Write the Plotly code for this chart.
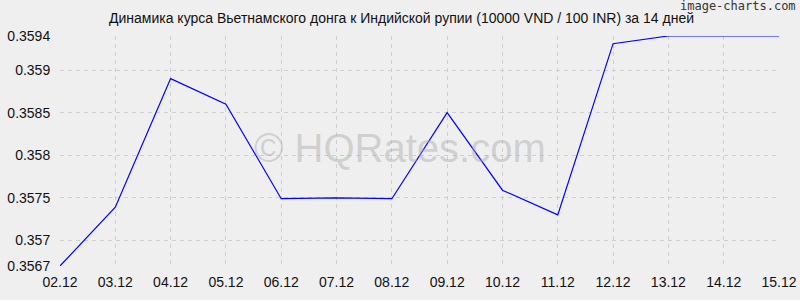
import plotly.graph_objects as go

dates = ["02.12", "03.12", "04.12", "05.12", "06.12", "07.12", "08.12",
         "09.12", "10.12", "11.12", "12.12", "13.12", "14.12", "15.12"]
rates = [0.3567, 0.35739, 0.35890, 0.35860, 0.35749, 0.35750, 0.35749,
         0.35850, 0.35759, 0.35730, 0.35931, 0.3594, 0.3594, 0.3594]
y_ticks = [0.3567, 0.357, 0.3575, 0.358, 0.3585, 0.359, 0.3594]
y_tick_labels = ["0.3567", "0.357", "0.3575", "0.358", "0.3585", "0.359", "0.3594"]

title_text = "Динамика курса Вьетнамского донга к Индийской рупии (10000 VND / 100 INR) за 14 дней"

fig = go.Figure()
fig.add_trace(go.Scatter(
    x=dates, y=rates, mode="lines",
    line=dict(color="#0000ff", width=1.2),
    hoverinfo="skip", showlegend=False,
))

grid = dict(showgrid=True, gridcolor="#cfcfcf", griddash="4px,4px", gridwidth=1,
            zeroline=False, showline=False, automargin=False,
            tickfont=dict(family="Liberation Sans", size=14, color="#111"))

fig.update_layout(
    width=800, height=300,
    margin=dict(l=60, r=21, t=36, b=34),
    paper_bgcolor="#efefef", plot_bgcolor="#efefef",
    xaxis=dict(type="category", range=[0, 13], ticks="outside", ticklen=3,
               tickcolor="rgba(0,0,0,0)", **grid),
    yaxis=dict(range=[y_ticks[0], y_ticks[-1]], tickvals=y_ticks, ticktext=y_tick_labels,
               ticks="outside", ticklen=6, tickcolor="rgba(0,0,0,0)", **grid),
    annotations=[
        dict(text=title_text, xref="paper", yref="paper", x=(401 - 60) / 719, y=1, yshift=18,
             xanchor="center", yanchor="middle", showarrow=False,
             font=dict(family="Liberation Sans", size=14, color="#111")),
        dict(text="image-charts.com", xref="paper", yref="paper", x=(798 - 60) / 719, y=1, yshift=30,
             xanchor="right", yanchor="middle", showarrow=False,
             font=dict(family="DejaVu Sans Mono", size=12, color="#333")),
        dict(text="© HQRates.com", xref="paper", yref="paper", x=(400 - 60) / 719, y=(266 - 148) / 230,
             xanchor="center", yanchor="middle", showarrow=False,
             font=dict(family="Liberation Sans", size=40, color="rgba(170,170,170,0.45)")),
    ],
)

fig.write_html("out.html")
